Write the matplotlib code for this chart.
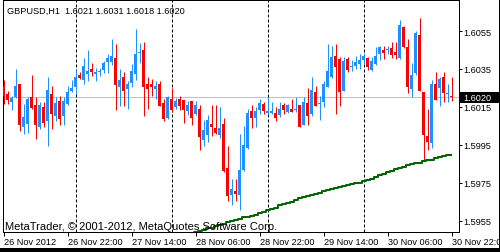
import matplotlib
matplotlib.use("Agg")
import matplotlib.pyplot as plt
from matplotlib.patches import Rectangle
from matplotlib.transforms import blended_transform_factory
import numpy as np
import pandas as pd

# ---------------- data ----------------
symbol = "GBPUSD"
timeframe = "H1"
start_time = "2012-11-26 06:00"
label_every = 16
copyright_text = "MetaTrader, \u00a9 2001-2012, MetaQuotes Software Corp."

opens = [
    1.60261, 1.60218, 1.60178, 1.60201, 1.60271, 1.60045, 1.60060, 1.60203, 1.60160, 1.60043,
    1.60150, 1.60078, 1.60218, 1.60104, 1.60183, 1.60101, 1.60166, 1.60233, 1.60254, 1.60319,
    1.60294, 1.60325, 1.60350, 1.60326, 1.60332, 1.60347, 1.60389, 1.60389, 1.60408, 1.60257,
    1.60310, 1.60245, 1.60276, 1.60324, 1.60435, 1.60450, 1.60271, 1.60271, 1.60245, 1.60271,
    1.60171, 1.60090, 1.60192, 1.60148, 1.60192, 1.60187, 1.60127, 1.60182, 1.60113, 1.60139,
    1.59978, 1.60004, 1.60060, 1.60039, 1.60004, 1.60060, 1.59828, 1.59688, 1.59709, 1.59688,
    1.59818, 1.59934, 1.60130, 1.60090, 1.60134, 1.60166, 1.60118, 1.60118, 1.60118, 1.60108,
    1.60160, 1.60125, 1.60139, 1.60133, 1.60160, 1.60057, 1.60171, 1.60113, 1.60227, 1.60167,
    1.60175, 1.60257, 1.60306, 1.60417, 1.60403, 1.60236, 1.60403, 1.60360, 1.60368, 1.60377,
    1.60399, 1.60407, 1.60347, 1.60377, 1.60429, 1.60452, 1.60448, 1.60461, 1.60441, 1.60407,
    1.60570, 1.60465, 1.60245, 1.60328, 1.60529, 1.60231, 1.59996, 1.59959, 1.60271, 1.60250,
    1.60310, 1.60216, 1.60210,
]
highs = [
    1.60292, 1.60234, 1.60209, 1.60350, 1.60271, 1.60166, 1.60204, 1.60319, 1.60203, 1.60175,
    1.60176, 1.60306, 1.60262, 1.60201, 1.60206, 1.60203, 1.60262, 1.60292, 1.60347, 1.60336,
    1.60407, 1.60450, 1.60382, 1.60355, 1.60355, 1.60394, 1.60429, 1.60508, 1.60482, 1.60350,
    1.60333, 1.60289, 1.60377, 1.60561, 1.60486, 1.60493, 1.60308, 1.60297, 1.60285, 1.60285,
    1.60192, 1.60208, 1.60248, 1.60197, 1.60209, 1.60187, 1.60180, 1.60182, 1.60183, 1.60160,
    1.60081, 1.60108, 1.60160, 1.60160, 1.60148, 1.60092, 1.59946, 1.59771, 1.59771, 1.60008,
    1.60051, 1.60139, 1.60160, 1.60150, 1.60192, 1.60178, 1.60201, 1.60175, 1.60148, 1.60175,
    1.60169, 1.60166, 1.60192, 1.60204, 1.60160, 1.60201, 1.60250, 1.60306, 1.60262, 1.60209,
    1.60289, 1.60482, 1.60471, 1.60482, 1.60412, 1.60412, 1.60412, 1.60398, 1.60420, 1.60429,
    1.60435, 1.60412, 1.60413, 1.60465, 1.60473, 1.60473, 1.60473, 1.60491, 1.60491, 1.60608,
    1.60578, 1.60508, 1.60380, 1.60552, 1.60619, 1.60231, 1.60139, 1.60292, 1.60333, 1.60306,
    1.60333, 1.60271, 1.60310,
]
lows = [
    1.60166, 1.60166, 1.60136, 1.60196, 1.60023, 1.60008, 1.60013, 1.60139, 1.59981, 1.60034,
    1.60045, 1.59946, 1.60034, 1.60076, 1.60055, 1.60055, 1.60160, 1.60227, 1.60218, 1.60297,
    1.60271, 1.60289, 1.60312, 1.60289, 1.60312, 1.60328, 1.60328, 1.60371, 1.60136, 1.60157,
    1.60157, 1.60139, 1.60254, 1.60292, 1.60380, 1.60104, 1.60139, 1.60209, 1.60192, 1.60155,
    1.60078, 1.60087, 1.60122, 1.60139, 1.60134, 1.60066, 1.60109, 1.60057, 1.60108, 1.59923,
    1.59946, 1.59964, 1.59999, 1.60008, 1.59987, 1.59806, 1.59653, 1.59635, 1.59656, 1.59609,
    1.59813, 1.59929, 1.60038, 1.60045, 1.60113, 1.60113, 1.60113, 1.60113, 1.60078, 1.60096,
    1.60113, 1.60118, 1.60122, 1.60122, 1.60045, 1.60055, 1.60057, 1.60103, 1.60155, 1.60081,
    1.60148, 1.60255, 1.60303, 1.60113, 1.60157, 1.60234, 1.60333, 1.60341, 1.60350, 1.60350,
    1.60377, 1.60347, 1.60340, 1.60371, 1.60398, 1.60403, 1.60429, 1.60407, 1.60403, 1.60403,
    1.60461, 1.60224, 1.60201, 1.60319, 1.60234, 1.59867, 1.59923, 1.59934, 1.60187, 1.60157,
    1.60175, 1.60175, 1.60180,
]
closes = [
    1.60208, 1.60187, 1.60196, 1.60261, 1.60055, 1.60097, 1.60192, 1.60145, 1.60057, 1.60160,
    1.60066, 1.60240, 1.60113, 1.60171, 1.60087, 1.60183, 1.60231, 1.60250, 1.60306, 1.60304,
    1.60364, 1.60340, 1.60336, 1.60332, 1.60338, 1.60380, 1.60408, 1.60417, 1.60266, 1.60292,
    1.60236, 1.60271, 1.60338, 1.60429, 1.60440, 1.60257, 1.60245, 1.60257, 1.60262, 1.60157,
    1.60087, 1.60204, 1.60136, 1.60180, 1.60157, 1.60134, 1.60160, 1.60092, 1.60160, 1.59993,
    1.60030, 1.60081, 1.60046, 1.60013, 1.60039, 1.59814, 1.59679, 1.59718, 1.59691, 1.59818,
    1.59950, 1.60118, 1.60092, 1.60130, 1.60169, 1.60130, 1.60130, 1.60130, 1.60092, 1.60139,
    1.60134, 1.60160, 1.60125, 1.60139, 1.60046, 1.60175, 1.60104, 1.60240, 1.60157, 1.60172,
    1.60271, 1.60338, 1.60412, 1.60359, 1.60227, 1.60391, 1.60347, 1.60365, 1.60386, 1.60398,
    1.60420, 1.60359, 1.60394, 1.60420, 1.60465, 1.60435, 1.60453, 1.60426, 1.60426, 1.60582,
    1.60465, 1.60257, 1.60319, 1.60540, 1.60236, 1.60004, 1.59967, 1.60271, 1.60188, 1.60297,
    1.60224, 1.60221, 1.60200,
]

ma_start = 46
ma_values = [
    1.59475, 1.59481, 1.59489, 1.59496, 1.59502, 1.59510, 1.59515, 1.59523, 1.59528, 1.59536,
    1.59544, 1.59549, 1.59557, 1.59562, 1.59568, 1.59573, 1.59578, 1.59583, 1.59590, 1.59599,
    1.59609, 1.59612, 1.59620, 1.59631, 1.59639, 1.59644, 1.59652, 1.59662, 1.59670, 1.59676,
    1.59681, 1.59686, 1.59691, 1.59697, 1.59705, 1.59712, 1.59718, 1.59723, 1.59728, 1.59734,
    1.59739, 1.59744, 1.59747, 1.59752, 1.59758, 1.59765, 1.59773, 1.59781, 1.59789, 1.59797,
    1.59805, 1.59813, 1.59821, 1.59831, 1.59836, 1.59842, 1.59847, 1.59853, 1.59857, 1.59863,
    1.59868, 1.59873, 1.59879, 1.59886, 1.59892, 1.59895, 1.59899,
]

y_ticks = [1.5955, 1.5975, 1.5995, 1.6015, 1.6035, 1.6055]

# ---------------- style ----------------
plt.rcParams["font.family"] = ["Liberation Sans", "DejaVu Sans"]
plt.rcParams["lines.scale_dashes"] = False
FS = 6.6
FS_COPY = 8.0

W, H, DPI = 500, 253, 100
PX = 72.0 / DPI  # points per pixel
BULL = "#1E90FF"
BEAR = "#FF0000"

fig = plt.figure(figsize=(W / DPI, H / DPI), dpi=DPI, facecolor="white")
ax_left, ax_right, ax_top, ax_bottom = 2.5, 458.5, 0.5, 232.5
ax = fig.add_axes([ax_left / W, 1 - ax_bottom / H,
                   (ax_right - ax_left) / W, (ax_bottom - ax_top) / H])
ax.set_facecolor("white")

o = np.array(opens)
h = np.array(highs)
l = np.array(lows)
c = np.array(closes)
n = len(o)
x = np.arange(n)
times = pd.date_range(start_time, periods=n, freq="h")

ax.set_xlim(-0.25, -0.25 + (ax_right - ax_left) / 4.0)
ax.set_ylim(1.59494, 1.60716)
price_per_px = (1.60716 - 1.59494) / (ax_bottom - ax_top)

# bid line
ax.axhline(c[-1], color="#C0C0C0", lw=PX, zorder=1)

# day separators
for xi, t in zip(x, times):
    if t.hour == 0:
        ax.axvline(xi, color="black", lw=PX, dashes=(3 * PX, 2 * PX), zorder=2)

colors = [BULL if cc >= oo else BEAR for oo, cc in zip(o, c)]
ax.vlines(x, l, h, colors=colors, lw=PX, zorder=3)
body_lo = np.minimum(o, c)
body_h = np.maximum(np.abs(c - o), price_per_px)
ax.bar(x, body_h, width=0.75, bottom=body_lo, color=colors, linewidth=0, zorder=4)

# moving average
ax.plot(x[ma_start:ma_start + len(ma_values)], ma_values, color="#006400",
        lw=2 * PX, drawstyle="steps-mid", zorder=5, solid_capstyle="butt")

# spines
for s in ax.spines.values():
    s.set_color("black")
    s.set_linewidth(PX)

# y axis on right
ax.yaxis.tick_right()
ax.set_yticks(y_ticks)
ax.set_yticklabels([f"{v:.4f}" for v in y_ticks])
ax.tick_params(axis="y", direction="out", length=3 * PX, width=PX, pad=2 * PX,
               labelsize=FS, colors="black")

# x axis
xt = x[::label_every]
xlabels = []
for k, i in enumerate(xt):
    t = times[i]
    xlabels.append(f"{t.day} {t:%b %Y}" if k == 0 else f"{t.day} {t:%b %H:%M}")
ax.set_xticks(xt)
ax.set_xticklabels(xlabels)
ax.tick_params(axis="x", direction="out", length=4 * PX, width=PX, pad=1.5 * PX,
               labelsize=FS, colors="black")
for lab in ax.get_xticklabels():
    lab.set_ha("left")

# header and copyright
header = f"{symbol},{timeframe}  {o[-1]:.4f} {h[-1]:.4f} {l[-1]:.4f} {c[-1]:.4f}"
fig.text(7 / W, 1 - 11 / H, header, fontsize=FS, va="center", ha="left", color="black")
fig.text(5 / W, 1 - 227.5 / H, copyright_text, fontsize=FS_COPY, va="center", ha="left",
         color="black", zorder=3)

# current price marker
bt = blended_transform_factory(fig.transFigure, ax.transData)
fig.add_artist(Rectangle((459 / W, c[-1] - 5.5 * price_per_px), 41 / W, 11 * price_per_px,
                         transform=bt, facecolor="black", edgecolor="none", zorder=6))
fig.text(463 / W, c[-1], f"{c[-1]:.4f}", transform=bt, fontsize=FS, va="center",
         ha="left", color="white", zorder=7)

# window frame
fig.add_artist(Rectangle((0, 0), 1, 4 / H, transform=fig.transFigure,
                         facecolor="black", edgecolor="none", zorder=10))
fig.add_artist(Rectangle((499 / W, 0), 1 / W, 1, transform=fig.transFigure,
                         facecolor="black", edgecolor="none", zorder=10))

fig.savefig("out.png", dpi=DPI, facecolor="white")
